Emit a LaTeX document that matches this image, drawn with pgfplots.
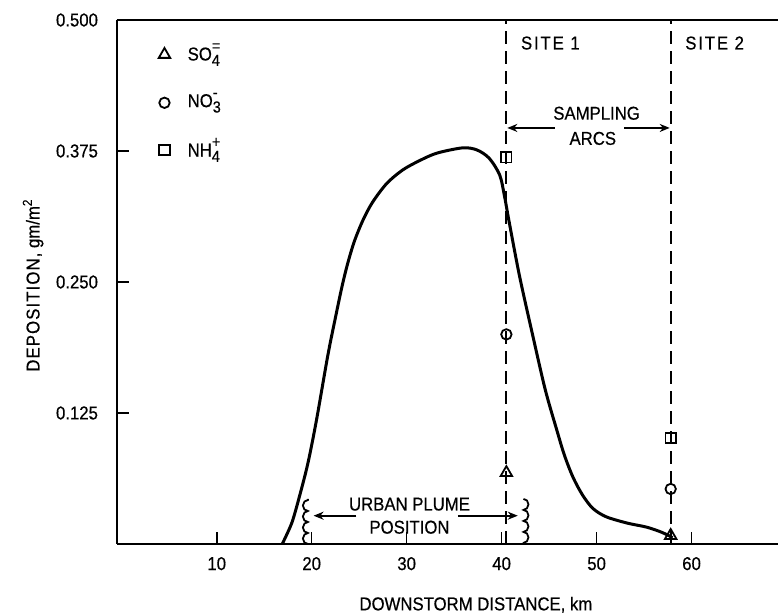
\documentclass[border=0pt]{standalone}
\usepackage{fontspec}
\setmainfont{Liberation Sans}[FakeStretch=0.9, FakeBold=0.5]
\usepackage{pgfplots}
\pgfplotsset{compat=1.18}
\usetikzlibrary{decorations.pathmorphing, arrows.meta}

% ion label: symbol, subscript, superscript stacked
\newcommand{\ion}[3]{#1\rlap{\raisebox{0.95ex}{\footnotesize #3}}\raisebox{-0.55ex}{\footnotesize #2}}

\begin{document}
\begin{tikzpicture}[font=\fontsize{9.3}{10}\selectfont]
\path[use as bounding box] (-58.5pt,-35pt) rectangle (330.5pt,272pt);
\begin{axis}[
    at={(0,0)}, anchor=south west,
    scale only axis,
    width=330.5pt, height=262pt,
    xmin=-0.5, xmax=69.1,
    ymin=0, ymax=0.5,
    axis x line*=bottom,
    axis y line*=left,
    axis line style={-, line width=1.2pt},
    tick style={black, line width=0.8pt},
    tick align=inside,
    major tick length=6pt,
    xtick={10,20,30,40,50,60},
    ytick={0.125,0.25,0.375,0.5},
    yticklabels={0.125,0.250,0.375,0.500},
    /pgf/number format/assume math mode=true,
    xticklabel style={yshift=-3pt},
    yticklabel style={xshift=-6pt},
    xlabel={DOWNSTORM DISTANCE, km},
    ylabel={{\addfontfeature{LetterSpace=6}DEPOSITION,} gm/m\textsuperscript{2}},
    xlabel style={at={(axis description cs:0.543,-0.116)}, anchor=center},
    ylabel style={at={(axis description cs:-0.127,0.494)}, anchor=center},
    clip=false,
]

% top frame line
\draw[line width=1.2pt] (rel axis cs:0,1) -- (rel axis cs:1,1);

% sampling sites
\draw[line width=1pt, dash pattern=on 6.5pt off 3.5pt] (axis cs:40.5,0) -- (axis cs:40.5,0.5);
\draw[line width=1pt, dash pattern=on 6.5pt off 3.5pt] (axis cs:57.8,0) -- (axis cs:57.8,0.5);
\node[anchor=west] at (axis cs:41.3,0.478) {\addfontfeature{LetterSpace=10}SITE 1};
\node[anchor=west] at (axis cs:58.6,0.478) {\addfontfeature{LetterSpace=10}SITE 2};

% sampling arcs
\draw[line width=0.9pt, -{Stealth[length=5pt,width=4pt]}] (axis cs:45.6,0.397) -- (axis cs:40.6,0.397);
\draw[line width=0.9pt, -{Stealth[length=5pt,width=4pt]}] (axis cs:52.9,0.397) -- (axis cs:57.7,0.397);
\node at (axis cs:50,0.411) {SAMPLING};
\node at (axis cs:49.6,0.387) {ARCS};

% deposition curve
\addplot[black, line width=1.5pt, smooth, tension=0.5] coordinates {
    (16.9,0) (17.9,0.020) (18.7,0.045) (19.6,0.077) (20.5,0.118)
    (21.7,0.180) (22.5,0.216) (23.2,0.246) (23.8,0.268) (24.5,0.289)
    (25.4,0.309) (26.4,0.326) (27.9,0.344) (29.6,0.357) (31.4,0.366)
    (33.2,0.373) (35.9,0.378) (37.4,0.376) (38.7,0.368)
    (39.8,0.352) (40.3,0.332) (40.8,0.307) (41.9,0.255) (43.3,0.198)
    (44.6,0.147) (45.8,0.109) (46.6,0.085) (47.5,0.064) (48.5,0.047)
    (49.6,0.034) (51.0,0.026) (53.2,0.020) (55.3,0.016) (56.9,0.011)
    (58.0,0.006)
};

% measured deposition at the sites
\addplot[only marks, mark=triangle, mark size=3.3pt, mark options={line width=0.9pt, fill=white}] coordinates {(40.5,0.068) (57.8,0.008)};
\addplot[only marks, mark=o, mark size=2.6pt, mark options={line width=0.9pt, fill=white}] coordinates {(40.5,0.200) (57.8,0.0525)};
\addplot[only marks, mark=square, mark size=2.6pt, mark options={line width=0.9pt, fill=white}] coordinates {(40.5,0.369) (57.8,0.101)};

% legend
\addplot[only marks, mark=triangle, mark size=3.3pt, mark options={line width=0.9pt}] coordinates {(4.5,0.467)};
\addplot[only marks, mark=o, mark size=2.6pt, mark options={line width=0.9pt}] coordinates {(4.5,0.421)};
\addplot[only marks, mark=square, mark size=2.6pt, mark options={line width=0.9pt}] coordinates {(4.5,0.376)};
\node[anchor=west] at (axis cs:6.2,0.467) {\ion{SO}{4}{=}};
\node[anchor=west] at (axis cs:6.2,0.421) {\ion{NO}{3}{-}};
\node[anchor=west] at (axis cs:6.2,0.376) {\ion{NH}{4}{+}};

% urban plume position
\draw[line width=0.9pt, decorate, decoration={bumps, segment length=11pt, amplitude=2.5pt}] (axis cs:19.6,0) -- (axis cs:19.6,0.043);
\draw[line width=0.9pt, decorate, decoration={bumps, segment length=11pt, amplitude=2.5pt}] (axis cs:42.3,0.043) -- (axis cs:42.3,0);
\draw[line width=0.9pt, -{Stealth[length=5pt,width=4pt]}] (axis cs:24.7,0.027) -- (axis cs:20.2,0.027);
\draw[line width=0.9pt, -{Stealth[length=5pt,width=4pt]}] (axis cs:35.4,0.027) -- (axis cs:41.7,0.027);
\node at (axis cs:30.3,0.038) {URBAN PLUME};
\node at (axis cs:30.3,0.016) {POSITION};

\end{axis}
\end{tikzpicture}
\end{document}
